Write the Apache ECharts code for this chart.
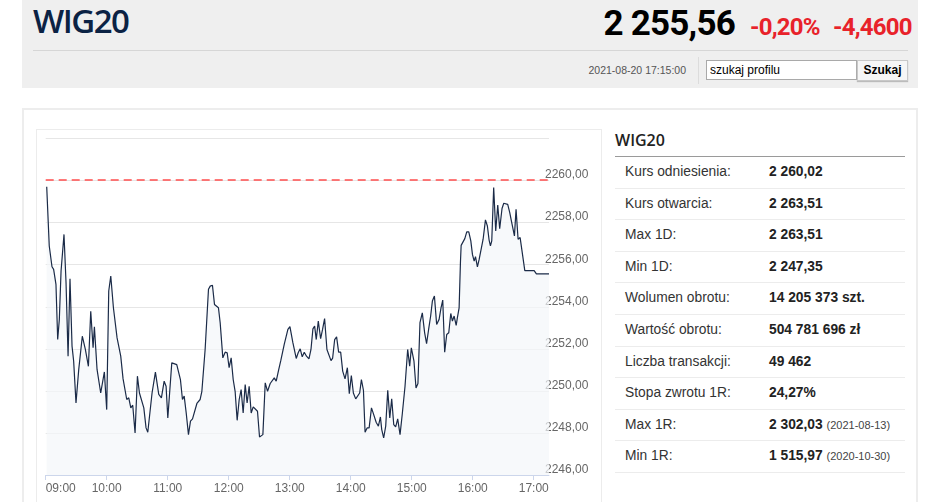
<!DOCTYPE html>
<html><head><meta charset="utf-8">
<script src="https://cdn.jsdelivr.net/npm/echarts@6/dist/echarts.min.js"></script>
<style>
html,body{margin:0;padding:0;background:#fff;width:948px;height:502px;overflow:hidden;font-family:"Liberation Sans",Arial,sans-serif;}
.abs{position:absolute;white-space:nowrap;}
#hdr{left:22px;top:0;width:896px;height:88px;background:#efefef;}
#title{left:33px;top:4px;font:600 33px/33px "Open Sans",sans-serif;color:#0b2244;letter-spacing:-1.5px;}
#price{right:213px;top:6px;font:700 35px/35px Roboto,sans-serif;color:#000;letter-spacing:-0.8px;}
#pct{left:750px;top:15px;font:700 24px/25px Roboto,sans-serif;color:#e8222a;letter-spacing:-0.8px;}
#chg{left:833px;top:15px;font:700 24px/25px Roboto,sans-serif;color:#e8222a;letter-spacing:-0.8px;}
#sep{left:33px;top:50px;width:875px;height:1px;background:#d6d6d6;}
#date{right:262px;top:64px;font:10.5px/12px "Liberation Sans",Arial,sans-serif;color:#555;}
#vdiv{left:698px;top:57px;width:1px;height:27px;background:#dcdcdc;}
#inp{left:706px;top:60px;width:146px;height:18px;border:1px solid #a9a9a9;background:#fff;font:12px/18px "Liberation Sans",Arial,sans-serif;color:#000;padding-left:3px;box-sizing:content-box;}
#btn{left:857px;top:60px;width:49px;height:19px;border:1px solid #c8c8c8;background:#f6f6f6;font:bold 12px/19px "Liberation Sans",Arial,sans-serif;color:#000;text-align:center;box-shadow:0 1px 1px #bbb;}
#panel{left:22px;top:108px;width:892px;height:400px;border:2px solid #ededed;}
#cbox{left:36px;top:129px;width:564px;height:380px;border:1px solid #ececec;}
#chart{left:36px;top:129px;width:565px;height:373px;}
#tt{left:615px;top:131px;font:600 16px/18px "Open Sans",sans-serif;color:#222;}
#tline{left:615px;top:156px;width:290px;height:1px;background:#9a9a9a;}
.row{position:absolute;left:615px;width:290px;height:30.6px;border-bottom:1px solid #ececec;font:13.8px/30px "Liberation Sans",Arial,sans-serif;}
.row .l{position:absolute;left:10px;color:#333;}
.row .v{position:absolute;left:154px;font-weight:bold;color:#222;}
.row .d{font-weight:normal;font-size:11px;color:#444;}
</style></head>
<body>
<div id="hdr" class="abs"></div>
<div id="title" class="abs">WIG20</div>
<div id="price" class="abs">2 255,56</div>
<div id="pct" class="abs">-0,20%</div>
<div id="chg" class="abs">-4,4600</div>
<div id="sep" class="abs"></div>
<div id="date" class="abs">2021-08-20 17:15:00</div>
<div id="vdiv" class="abs"></div>
<div id="inp" class="abs">szukaj profilu</div>
<div id="btn" class="abs">Szukaj</div>
<div id="panel" class="abs"></div>
<div id="cbox" class="abs"></div>
<div id="chart" class="abs"></div>
<div id="tt" class="abs">WIG20</div>
<div id="tline" class="abs"></div>
<div id="tbl"></div>
<script>
// intraday series: minutes after 09:00 and index level
var times = [1,3.5,6.2,7.8,10.1,11.8,13.4,15.1,18,20,22,23.9,25.9,27.5,29.8,32.5,36,39,42,44.3,46.6,47.9,50.5,54.1,57.7,60,62,64,66.6,70.2,73.8,76.1,77.7,79.7,81.7,83.7,85.6,87.9,90.2,92.2,94.1,96.5,98.7,100.4,104.6,107.9,111.2,113.8,116.5,118.4,
120.1,124,128.9,130.5,132.5,134.5,136.2,138.2,140.4,142.4,144.4,148.7,151.9,153.6,156.8,160.1,161.8,164,166,169.9,171.6,174.2,176.5,178.5,180.4,182.4,184.4,186.3,188.3,190.3,192.2,194.2,196.2,198.1,200.1,202.1,204.1,206,208.3,210.3,213.6,215.9,218.2,220.8,222.5,224.8,226.7,229,231.3,232.9,234.6,236.2,238.2,240.2,
243.1,246.4,248.3,250.3,252.3,254.3,256.5,258.9,260.9,262.8,264.5,266.1,268.1,270.4,272.3,274.3,276.6,278.2,280.6,282.2,284.2,286.1,288.1,290.1,292.1,294.4,296.7,298.6,300.6,302.6,304.9,306.8,308.8,310.5,312.5,314.1,316.1,318.1,320.4,322.6,325,327.2,329.2,330.5,332.4,334.4,336.4,338.4,340.3,342.3,344.2,346.2,348.5,350.8,353.4,356,358,
359.6,362.2,364.2,366.1,368.1,370.4,372.7,374.6,376.6,378.6,380.3,382.3,384.5,386.9,388.8,390.5,392.4,394.4,396.4,398.4,400,401.7,403.7,404.9,406.6,407.9,408.6,410.5,412.2,414.1,416.1,418.1,419.7,421.4,422.7,424.6,426.3,427.9,430.2,432.5,434.4,436.1,437.4,438.7,440.6,442.6,444.6,446.5,448.8,450.5,452.4,454.4,456.4,458,459.3,461,462.6,464.6,466.6,468.5,471.2,475.1,480.4,482.6,495];
var values = [2259.71,2256.89,2255.90,2255.78,2255.06,2252.44,2253.40,2255.70,2257.44,2255.14,2251.65,2255.33,2252.13,2251.41,2249.43,2251.02,2252.60,2251.97,2251.17,2253.79,2252.05,2253.05,2251.02,2249.90,2250.90,2249.11,2254.75,2255.46,2253.95,2252.52,2251.65,2250.57,2250.54,2249.59,2249.67,2249.19,2249.32,2248.00,2250.70,2249.90,2249.83,2249.19,2248.24,2248.03,2249.90,2250.89,2249.83,2249.67,2250.46,2250.22,
2248.71,2251.33,2251.25,2251.21,2250.54,2249.59,2249.75,2248.95,2247.92,2248.56,2248.67,2249.40,2249.59,2249.98,2251.97,2254.83,2254.98,2255.02,2254.11,2253.95,2253.24,2251.57,2251.84,2251.81,2251.10,2251.57,2250.54,2249.98,2248.60,2249.59,2250.06,2248.95,2250.30,2249.43,2250.22,2248.95,2249.24,2249.17,2249.03,2247.81,2247.92,2250.38,2249.98,2250.35,2250.30,2250.62,2250.46,2250.98,2251.46,2251.49,2252.21,2252.17,2252.92,2253.05,
2252.29,2251.54,2251.81,2252.00,2251.62,2251.84,2251.65,2251.52,2251.97,2252.95,2253.08,2252.44,2253.32,2252.48,2252.92,2253.44,2251.97,2251.97,2251.44,2251.56,2252.44,2252.57,2251.84,2251.84,2250.94,2250.57,2251.10,2249.87,2250.73,2249.90,2249.62,2249.67,2249.90,2250.54,2250.03,2248.03,2248.24,2248.24,2249.19,2248.87,2248.51,2248.32,2248.76,2248.16,2247.76,2248.32,2250.03,2248.71,2249.62,2248.40,2248.29,2248.67,2247.92,2248.95,2250.22,2251.97,2251.17,
2252.05,2251.41,2250.14,2250.35,2253.24,2253.71,2252.76,2252.25,2252.92,2253.56,2254.27,2254.51,2253.16,2253.40,2253.95,2254.32,2251.84,2252.68,2252.76,2253.68,2253.32,2253.56,2253.11,2253.48,2253.95,2256.10,2256.92,2256.92,2257.24,2257.56,2257.56,2257.13,2256.49,2256.17,2256.38,2255.90,2256.25,2256.17,2257.21,2258.13,2257.84,2257.17,2256.89,2257.13,2259.67,2257.60,2258.83,2257.71,2258.67,2258.92,2258.95,2258.87,2258.48,2258.08,2258.00,2257.37,2258.63,2257.21,2257.29,2257.33,2255.72,2255.72,2255.72,2255.56,2255.56];
var referenceLevel = 2260.02;
var hourTicks = [0,60,120,180,240,300,360,420,480];
var hourLabels = ['09:00','10:00','11:00','12:00','13:00','14:00','15:00','16:00','17:00'];
var yMin = 2246, yMax = 2262, yStep = 2;

var tableLabels = ['Kurs odniesienia:','Kurs otwarcia:','Max 1D:','Min 1D:','Wolumen obrotu:','Wartość obrotu:','Liczba transakcji:','Stopa zwrotu 1R:','Max 1R:','Min 1R:'];
var tableValues = ['2 260,02','2 263,51','2 263,51','2 247,35','14 205 373 szt.','504 781 696 zł','49 462','24,27%','2 302,03','1 515,97'];
var tableDates = ['','','','','','','','','(2021-08-13)','(2020-10-30)'];

var tbl = document.getElementById('tbl');
for (var i = 0; i < tableLabels.length; i++) {
  var r = document.createElement('div');
  r.className = 'row';
  r.style.top = (157 + i * 31.6) + 'px';
  r.innerHTML = '<span class="l">' + tableLabels[i] + '</span><span class="v">' + tableValues[i] +
    (tableDates[i] ? ' <span class="d">' + tableDates[i] + '</span>' : '') + '</span>';
  tbl.appendChild(r);
}

var pts = times.map(function (t, i) { return [t, values[i]]; });
var chart = echarts.init(document.getElementById('chart'), null, {renderer: 'canvas'});
chart.setOption({
  animation: false,
  grid: {left: 9.7, right: 52, top: 9.5, bottom: 27, containLabel: false},
  xAxis: {
    type: 'value', min: 0, max: 495, interval: 60,
    axisLine: {lineStyle: {color: '#ccd6eb', width: 1}},
    axisTick: {show: true, length: 5, lineStyle: {color: '#ccd6eb'}, customValues: hourTicks},
    axisLabel: {
      color: '#666', fontSize: 12, margin: 8, fontFamily: '"Liberation Sans", Arial, sans-serif',
      customValues: hourTicks, alignMinLabel: 'left',
      formatter: function (v) { var k = hourTicks.indexOf(v); return k >= 0 ? hourLabels[k] : ''; }
    },
    splitLine: {show: false}
  },
  yAxis: {
    type: 'value', position: 'right', min: yMin, max: yMax, interval: yStep,
    axisLine: {show: false}, axisTick: {show: false},
    splitLine: {lineStyle: {color: '#e6e6e6', width: 1}},
    axisLabel: {
      color: '#666', fontSize: 12, margin: -4, verticalAlign: 'bottom', lineHeight: 11, showMaxLabel: false,
      fontFamily: '"Liberation Sans", Arial, sans-serif',
      formatter: function (v) { return v.toFixed(2).replace('.', ','); }
    }
  },
  series: [{
    type: 'line', data: pts, showSymbol: false, symbol: 'none',
    lineStyle: {color: '#1b2b48', width: 1.2},
    areaStyle: {color: '#f4f6f9', origin: 'start'},
    markLine: {
      silent: true, symbol: 'none', label: {show: false},
      lineStyle: {color: '#ff4d4d', type: [8, 5], width: 1.5},
      data: [{yAxis: referenceLevel}]
    }
  }]
});
</script>
</body></html>
